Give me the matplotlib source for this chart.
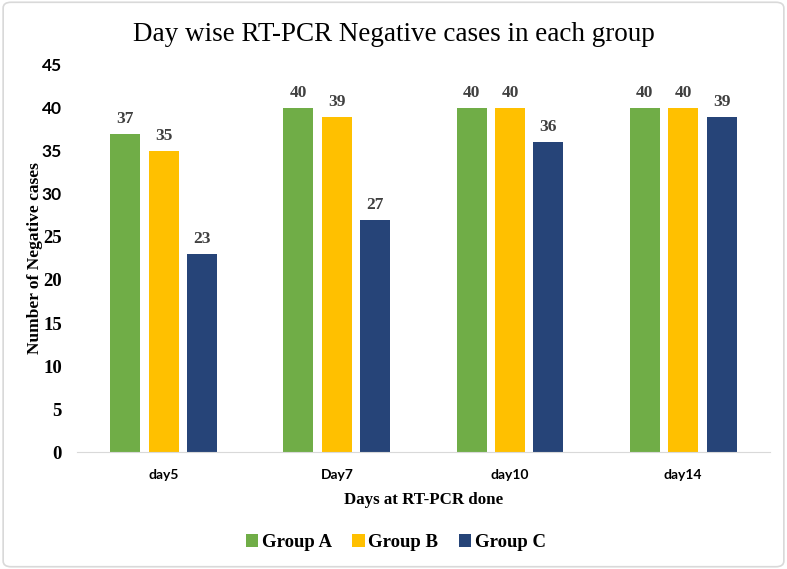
import numpy as np
import matplotlib.pyplot as plt
from matplotlib.patches import FancyBboxPatch

# data
days = ['day5', 'Day7', 'day10', 'day14']
groups = ['Group A', 'Group B', 'Group C']
group_a = [37, 40, 40, 40]
group_b = [35, 39, 40, 40]
group_c = [23, 27, 36, 39]
colors = ['#70AD47', '#FFC000', '#264478']
yticks = [0, 5, 10, 15, 20, 25, 30, 35, 40, 45]

serif = 'Liberation Serif'
sans = 'Lato'

fig = plt.figure(figsize=(7.87, 5.69), dpi=100)
ax = fig.add_axes([0.098, 0.2056, 0.88, 0.6802])

x = np.arange(len(days))
width = 0.173
step = 0.222
for i, (vals, name) in enumerate(zip([group_a, group_b, group_c], groups)):
    bars = ax.bar(x + (i - 1) * step, vals, width, color=colors[i], label=name)
    for b, v in zip(bars, vals):
        ax.annotate(str(v), (b.get_x() + b.get_width() / 2, v), xytext=(0, 5),
                    textcoords='offset points', ha='center', va='bottom',
                    fontfamily=serif, fontweight='bold', fontsize=12.5, color='#404040')

ax.set_xlim(-0.5, 3.5)
ax.set_ylim(0, 45)
ax.set_yticks(yticks)
ax.set_xticks(x)
ax.set_xticklabels(days, fontfamily=sans, fontweight='bold', fontsize=10)
ax.set_yticklabels([str(t) for t in yticks], fontweight='bold')
for lab, t in zip(ax.get_yticklabels(), yticks):
    if t >= 30:
        lab.set_fontfamily(sans)
        lab.set_fontsize(12.5)
    else:
        lab.set_fontfamily(serif)
        lab.set_fontsize(13.5)
ax.tick_params(axis='both', length=0)
ax.tick_params(axis='y', pad=11)
ax.tick_params(axis='x', pad=12)

for s in ['top', 'right', 'left']:
    ax.spines[s].set_visible(False)
ax.spines['bottom'].set_color('#D9D9D9')

fig.text(0.5, 0.94, 'Day wise RT-PCR Negative cases in each group', fontfamily=serif,
         fontsize=19.5, ha='center', va='center')
ax.set_xlabel('Days at RT-PCR done', fontfamily=serif, fontweight='bold', fontsize=12.2, labelpad=8)
ax.set_ylabel('Number of Negative cases', fontfamily=serif, fontweight='bold', fontsize=12.5)
ax.yaxis.set_label_coords(-0.049, 0.5)

fig.legend(*ax.get_legend_handles_labels(), loc='center', bbox_to_anchor=(0.503, 0.046), ncol=3,
           frameon=False, prop={'family': serif, 'weight': 'bold', 'size': 13.5},
           handlelength=0.65, handleheight=0.65, handletextpad=0.2, columnspacing=1.1)

border = FancyBboxPatch((0.004, 0.004), 0.992, 0.992, boxstyle='round,pad=0,rounding_size=0.01',
                        transform=fig.transFigure, fill=False, edgecolor='#D9D9D9', linewidth=1.2)
fig.patches.append(border)

fig.savefig('out.png', dpi=100)
